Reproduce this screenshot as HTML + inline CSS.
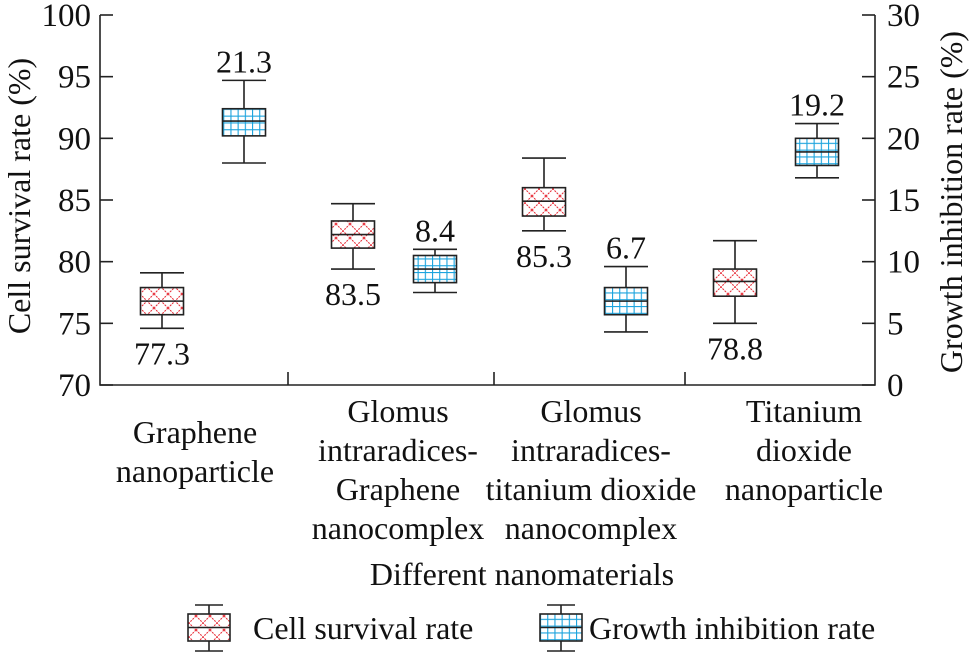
<!DOCTYPE html>
<html><head><meta charset="utf-8"><style>
html,body{margin:0;padding:0;background:#fff;}
svg{display:block;font-family:"Liberation Serif",serif;}
</style></head><body>
<svg id="chart" width="971" height="652" viewBox="0 0 971 652" xmlns="http://www.w3.org/2000/svg">
<defs>
<pattern id="redHatch" patternUnits="userSpaceOnUse" width="14" height="14">
<rect width="14" height="14" fill="#fff"/>
<path d="M0,0 L14,14 M14,0 L0,14" stroke="#e8323c" stroke-width="1.1" stroke-dasharray="2,1"/>
</pattern>
<pattern id="blueHatch" patternUnits="userSpaceOnUse" width="7.2" height="6.8">
<rect width="7.2" height="6.8" fill="#fff"/>
<path d="M0,0 H7.2 M0,0 V6.8" stroke="#1aa3dd" stroke-width="2.2"/>
</pattern>
</defs>
<g id="plot"></g>
</svg>
<script>
// ---- data ----
const categories = [
  ["Graphene","nanoparticle"],
  ["Glomus","intraradices-","Graphene","nanocomplex"],
  ["Glomus","intraradices-","titanium dioxide","nanocomplex"],
  ["Titanium","dioxide","nanoparticle"]
];
const survivalMin = [74.6, 79.4, 82.5, 75.0];
const survivalQ1 = [75.7, 81.1, 83.7, 77.2];
const survivalMed = [76.8, 82.2, 84.9, 78.4];
const survivalQ3 = [77.9, 83.3, 86.0, 79.4];
const survivalMax = [79.1, 84.7, 88.4, 81.7];
const survivalLabels = ["77.3","83.5","85.3","78.8"];
const inhibMin = [18.0, 7.5, 4.3, 16.8];
const inhibQ1 = [20.2, 8.3, 5.7, 17.8];
const inhibMed = [21.4, 9.4, 6.8, 18.9];
const inhibQ3 = [22.4, 10.5, 7.9, 20.0];
const inhibMax = [24.7, 11.0, 9.6, 21.2];
const inhibLabels = ["21.3","8.4","6.7","19.2"];
const leftTicks = [70,75,80,85,90,95,100];
const rightTicks = [0,5,10,15,20,25,30];

// ---- scales ----
const X0 = 100, X1 = 875, YT = 15, YB = 385;
const yL = v => YB - (v - 70) / 30 * (YB - YT);
const yR = v => YB - v / 30 * (YB - YT);
const center = i => 203 + i * 191;
const OFF = 41, BW = 43, CAP = 22;
const FS = 32;

const NS = "http://www.w3.org/2000/svg";
const g = document.getElementById("plot");
function el(tag, attrs, parent) {
  const e = document.createElementNS(NS, tag);
  for (const k in attrs) e.setAttribute(k, attrs[k]);
  (parent || g).appendChild(e);
  return e;
}
function txt(s, x, y, size, anchor, parent) {
  const t = el("text", {x: x, y: y, "font-size": size, "text-anchor": anchor || "middle", fill: "#111"}, parent);
  t.textContent = s;
  return t;
}

// axes
const axes = el("path", {d: `M${X0},${YT} V${YB} H${X1} V${YT}`, fill: "none", stroke: "#222", "stroke-width": 1.6});


leftTicks.forEach(v => {
  const y = yL(v);
  const tk = el("line", {x1: X0, x2: X0 + 13, y1: y, y2: y, stroke: "#222", "stroke-width": 1.6});
  
  
  const t = txt(String(v), 91, y + 11, 33, "end");
  
  
});
rightTicks.forEach(v => {
  const y = yR(v);
  const tk = el("line", {x1: X1 - 13, x2: X1, y1: y, y2: y, stroke: "#222", "stroke-width": 1.6});
  
  
  const t = txt(String(v), 887, y + 11, 33, "start");
  
  
});
[288, 494, 685].forEach(x => {
  const tk = el("line", {x1: x, x2: x, y1: YB - 13, y2: YB, stroke: "#222", "stroke-width": 1.6});
  
  
});

// axis titles
const lt = txt("Cell survival rate (%)", 0, 0, FS);
lt.setAttribute("transform", "translate(30,196) rotate(-90)");


const rt = txt("Growth inhibition rate (%)", 0, 0, FS);
rt.setAttribute("transform", "translate(962,202) rotate(-90)");


const xt = txt("Different nanomaterials", 522, 585, FS);



// category labels
const labelX = [195, 398, 591, 804];
const labelY0 = [443, 422, 422, 422];
categories.forEach((lines, i) => {
  lines.forEach((s, j) => {
    const t = txt(s, labelX[i], labelY0[i] + j * 39, FS);
    
    
  });
});

function box(cx, lo, q1, med, q3, hi, fill, name) {
  const grp = el("g", {});
  
  
  const s = {stroke: "#222", "stroke-width": 1.6};
  el("line", Object.assign({x1: cx, x2: cx, y1: hi, y2: q3}, s), grp);
  el("line", Object.assign({x1: cx, x2: cx, y1: q1, y2: lo}, s), grp);
  el("line", Object.assign({x1: cx - CAP, x2: cx + CAP, y1: hi, y2: hi}, s), grp);
  el("line", Object.assign({x1: cx - CAP, x2: cx + CAP, y1: lo, y2: lo}, s), grp);
  el("rect", Object.assign({x: cx - BW / 2, y: q3, width: BW, height: q1 - q3, fill: fill}, s), grp);
  el("line", Object.assign({x1: cx - BW / 2, x2: cx + BW / 2, y1: med, y2: med}, s), grp);
  return grp;
}

categories.forEach((c, i) => {
  const cr = center(i) - OFF, cb = center(i) + OFF;
  box(cr, yL(survivalMin[i]), yL(survivalQ1[i]), yL(survivalMed[i]), yL(survivalQ3[i]), yL(survivalMax[i]), "url(#redHatch)", "survival-box");
  const ls = txt(survivalLabels[i], cr, yL(survivalMin[i]) + 36, FS);
  
  
  box(cb, yR(inhibMin[i]), yR(inhibQ1[i]), yR(inhibMed[i]), yR(inhibQ3[i]), yR(inhibMax[i]), "url(#blueHatch)", "inhibition-box");
  const li = txt(inhibLabels[i], cb, yR(inhibMax[i]) - 8, FS);
  
  
});

// legend
const leg = el("g", {});


function legendBox(cx, fill) {
  const s = {stroke: "#222", "stroke-width": 1.6};
  el("line", Object.assign({x1: cx, x2: cx, y1: 605, y2: 651}, s), leg);
  el("line", Object.assign({x1: cx - 14, x2: cx + 14, y1: 605, y2: 605}, s), leg);
  el("line", Object.assign({x1: cx - 14, x2: cx + 14, y1: 651, y2: 651}, s), leg);
  el("rect", Object.assign({x: cx - 21, y: 614, width: 42, height: 27, fill: fill}, s), leg);
  el("line", Object.assign({x1: cx - 21, x2: cx + 21, y1: 627.5, y2: 627.5}, s), leg);
}
legendBox(209, "url(#redHatch)");
const l1 = txt("Cell survival rate", 253, 639, FS, "start", leg);


legendBox(561, "url(#blueHatch)");
const l2 = txt("Growth inhibition rate", 589, 639, FS, "start", leg);


</script>
</body></html>
